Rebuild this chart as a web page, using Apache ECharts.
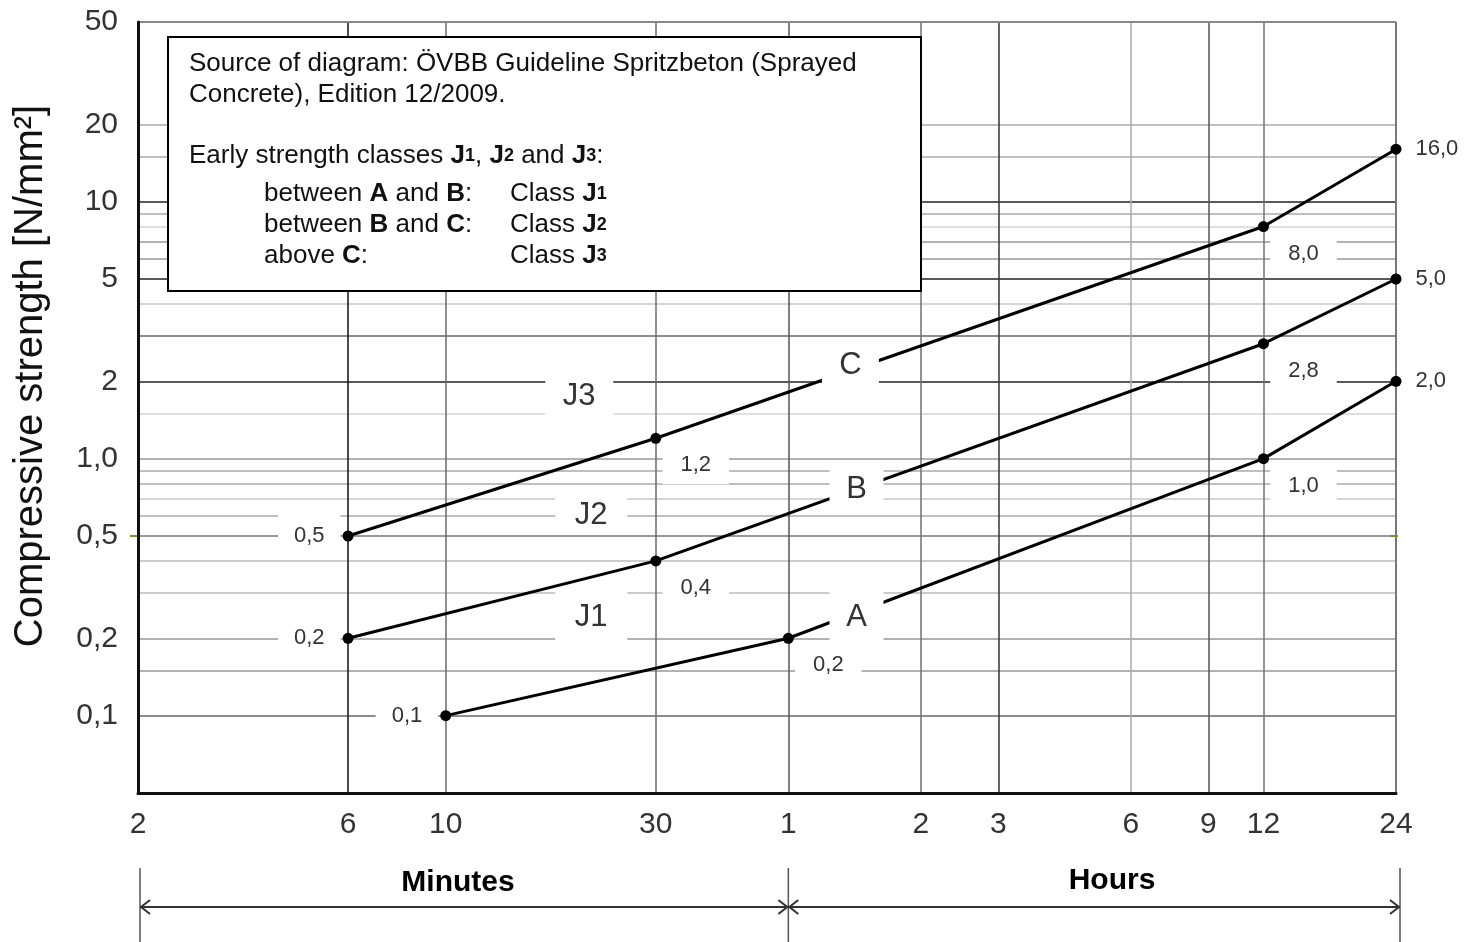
<!DOCTYPE html>
<html><head><meta charset="utf-8">
<script src="https://cdn.jsdelivr.net/npm/echarts@6/dist/echarts.min.js"></script>
<style>html,body{margin:0;padding:0;background:#fff}#c{width:1466px;height:942px}</style>
</head><body><div id="c"></div>
<script>
// ---- data ----
const xTickValues = [2, 6, 10, 30, 60, 120, 180, 360, 540, 720, 1440];           // minutes
const xTickLabels = ['2', '6', '10', '30', '1', '2', '3', '6', '9', '12', '24'];
const yTickValues = [0.1, 0.2, 0.5, 1, 2, 5, 10, 20, 50];
const yTickLabels = ['0,1', '0,2', '0,5', '1,0', '2', '5', '10', '20', '50'];
const xGridValues = [6, 10, 30, 60, 120, 180, 360, 540, 720];
const yGridValues = [0.1, 0.15, 0.2, 0.3, 0.4, 0.5, 0.6, 0.7, 0.8, 0.9, 1, 1.5, 2, 3, 4, 5, 6, 7, 8, 9, 10, 15, 20];

const timeC = [6, 30, 720, 1440];
const strengthC = [0.5, 1.2, 8.0, 16.0];
const timeB = [6, 30, 720, 1440];
const strengthB = [0.2, 0.4, 2.8, 5.0];
const timeA = [10, 60, 720, 1440];
const strengthA = [0.1, 0.2, 1.0, 2.0];

const curveTags = ['C', 'B', 'A'];
const curveTagTime = [83, 85.7, 85.7];
const curveTagStrength = [2.3, 0.757, 0.24];
const classTags = ['J3', 'J2', 'J1'];
const classTagTime = [20.1, 21.4, 21.4];
const classTagStrength = [1.74, 0.60, 0.24];

// ---- styles ----
const FONT = "'Liberation Sans', Arial, Helvetica, sans-serif";
const xGridShades = ['#111', '#6a6a6a', '#6a6a6a', '#555', '#707070', '#333', '#aaa', '#555', '#707070'];
const yGridShades = ['#666', '#999', '#999', '#bbb', '#bbb', '#777', '#aaa', '#c8c8c8', '#aaa', '#aaa', '#999',
  '#d4d4d4', '#222', '#666', '#c8c8c8', '#222', '#999', '#999', '#d4d4d4', '#aaa', '#222', '#aaa', '#aaa'];
const sideC = ['left', 'below', 'below', 'right'];
const sideB = ['left', 'below', 'below', 'right'];
const sideA = ['left', 'below', 'below', 'right'];
const curveTagBox = [[57, 52], [54, 50], [54, 52]];
const classTagBox = [[68, 44], [72, 38], [72, 52]];

const fmt = v => v.toFixed(1).replace('.', ',');

function pointLabel(side) {
  const base = { show: true, formatter: p => fmt(p.value[1]), fontSize: 22, color: '#333', fontFamily: FONT };
  if (side === 'left') return Object.assign(base, { position: 'left', distance: 2, backgroundColor: '#fff', padding: [10, 16] });
  if (side === 'right') return Object.assign(base, { position: 'right', distance: 14 });
  return Object.assign(base, { position: 'inside', offset: [40, 27], backgroundColor: '#fff', padding: [8, 18] });
}
function curveSeries(name, times, vals, sides) {
  return {
    type: 'line', name, z: 3, clip: false, silent: true, animation: false,
    data: times.map((t, i) => ({ value: [t, vals[i]], label: pointLabel(sides[i]) })),
    lineStyle: { color: '#000', width: 3 }, itemStyle: { color: '#000' },
    symbol: 'circle', symbolSize: 11, showSymbol: true, emphasis: { disabled: true }
  };
}

const markData = [];
yGridValues.forEach((v, i) => markData.push({ yAxis: v, lineStyle: { color: yGridShades[i], width: 1.5, type: 'solid' }, label: { show: false } }));
xGridValues.forEach((v, i) => markData.push({ xAxis: v, lineStyle: { color: xGridShades[i], width: 1.5, type: 'solid' }, label: { show: false } }));
yTickValues.forEach((v, i) => markData.push({
  yAxis: v,
  lineStyle: v === 50 ? { color: '#888', width: 2, type: 'solid' } : { color: 'rgba(0,0,0,0)', width: 0 },
  label: { show: true, formatter: yTickLabels[i], position: 'start', distance: 20, fontSize: 30, color: '#333', fontFamily: FONT }
}));
xTickValues.forEach((v, i) => markData.push({
  xAxis: v,
  lineStyle: v === 1440 ? { color: '#777', width: 2, type: 'solid' } : { color: 'rgba(0,0,0,0)', width: 0 },
  label: { show: true, formatter: xTickLabels[i], position: 'start', distance: 17, fontSize: 30, color: '#333', fontFamily: FONT }
}));
// small green marks at 0,5 on both frame edges
markData.push({ yAxis: 0.5, lineStyle: { color: 'rgba(0,0,0,0)', width: 0 }, label: { show: true, formatter: '', position: 'start', distance: 0, backgroundColor: '#6a9a2a', width: 8, height: 2, padding: 0 } });
markData.push({ yAxis: 0.5, lineStyle: { color: 'rgba(0,0,0,0)', width: 0 }, label: { show: true, formatter: '', position: 'end', distance: -6, backgroundColor: '#6a9a2a', width: 8, height: 2, padding: 0 } });

const tagData = [];
curveTags.forEach((n, i) => tagData.push({ name: n, value: [curveTagTime[i], curveTagStrength[i]], symbolSize: curveTagBox[i] }));
classTags.forEach((n, i) => tagData.push({ name: n, value: [classTagTime[i], classTagStrength[i]], symbolSize: classTagBox[i] }));

const chart = echarts.init(document.getElementById('c'), null, { renderer: 'canvas' });
const series = [
  Object.assign(curveSeries('C', timeC, strengthC, sideC), {
    markLine: { z: 1, silent: true, animation: false, symbol: ['none', 'none'], label: { show: false }, emphasis: { disabled: true }, data: markData }
  }),
  curveSeries('B', timeB, strengthB, sideB),
  curveSeries('A', timeA, strengthA, sideA),
  {
    type: 'scatter', z: 5, silent: true, animation: false, symbol: 'rect', clip: false,
    itemStyle: { color: '#fff', opacity: 1 },
    label: { show: true, position: 'inside', formatter: '{b}', fontSize: 31, color: '#333', fontFamily: FONT },
    emphasis: { disabled: true },
    data: tagData
  }
];

chart.setOption({
  animation: false,
  textStyle: { fontFamily: FONT },
  grid: { left: 138, right: 70, top: 22, bottom: 149, containLabel: false, outerBoundsMode: 'none', show: false },
  xAxis: {
    type: 'log', logBase: 10, min: 2, max: 1440, z: 4,
    axisLine: { show: true, lineStyle: { color: '#111', width: 3 } },
    axisTick: { show: false }, axisLabel: { show: false }, splitLine: { show: false }, minorSplitLine: { show: false }
  },
  yAxis: {
    type: 'log', logBase: 10, min: 0.05, max: 50, z: 4,
    axisLine: { show: true, lineStyle: { color: '#111', width: 3 } },
    axisTick: { show: false }, axisLabel: { show: false }, splitLine: { show: false }, minorSplitLine: { show: false }
  },
  series
});

const px = v => chart.convertToPixel({ xAxisIndex: 0 }, v);
const xa = px(2) + 2, xb = px(60), xc = px(1440) + 4;
const arrowY = 907;
const txt = (x, y, text, extra) => ({
  type: 'text', x, y, z: 100,
  style: Object.assign({ text, font: '26px ' + FONT, fill: '#111', textAlign: 'left', align: 'left', textVerticalAlign: 'middle', verticalAlign: 'middle' }, extra || {})
});
const richJ = {
  b: { fontWeight: 'bold', fontSize: 26, fontFamily: FONT, lineHeight: 30, fill: '#111' },
  s: { fontWeight: 'bold', fontSize: 18, fontFamily: FONT, lineHeight: 30, verticalAlign: 'middle', fill: '#111' }
};
const richTxt = (x, y, text) => txt(x, y, text, { rich: richJ, lineHeight: 30, fontSize: 26, fontFamily: FONT });

chart.setOption({
  graphic: [
    { type: 'text', x: 31, y: 376, rotation: Math.PI / 2, z: 100,
      style: { text: 'Compressive strength [N/mm²]', font: '40px ' + FONT, fill: '#111', textAlign: 'center', align: 'center', textVerticalAlign: 'middle', verticalAlign: 'middle' } },
    // time range brackets
    { type: 'line', z: 100, shape: { x1: xa, y1: 868, x2: xa, y2: 942 }, style: { stroke: '#555', lineWidth: 1.5 } },
    { type: 'line', z: 100, shape: { x1: xb, y1: 868, x2: xb, y2: 942 }, style: { stroke: '#555', lineWidth: 1.5 } },
    { type: 'line', z: 100, shape: { x1: xc, y1: 868, x2: xc, y2: 942 }, style: { stroke: '#555', lineWidth: 1.5 } },
    { type: 'line', z: 100, shape: { x1: xa, y1: arrowY, x2: xc, y2: arrowY }, style: { stroke: '#333', lineWidth: 2 } },
    { type: 'polyline', z: 100, shape: { points: [[xa + 10, arrowY - 7], [xa + 1, arrowY], [xa + 10, arrowY + 7]] }, style: { stroke: '#333', lineWidth: 2, fill: null } },
    { type: 'polyline', z: 100, shape: { points: [[xb - 10, arrowY - 7], [xb - 1, arrowY], [xb - 10, arrowY + 7]] }, style: { stroke: '#333', lineWidth: 2, fill: null } },
    { type: 'polyline', z: 100, shape: { points: [[xb + 10, arrowY - 7], [xb + 1, arrowY], [xb + 10, arrowY + 7]] }, style: { stroke: '#333', lineWidth: 2, fill: null } },
    { type: 'polyline', z: 100, shape: { points: [[xc - 10, arrowY - 7], [xc - 1, arrowY], [xc - 10, arrowY + 7]] }, style: { stroke: '#333', lineWidth: 2, fill: null } },
    txt(458, 883, 'Minutes', { font: 'bold 30px ' + FONT, fill: '#000', textAlign: 'center', align: 'center' }),
    txt(1112, 881, 'Hours', { font: 'bold 30px ' + FONT, fill: '#000', textAlign: 'center', align: 'center' }),
    // source / legend box
    { type: 'rect', z: 99, shape: { x: 168, y: 37, width: 753, height: 254 }, style: { fill: '#fff', stroke: '#000', lineWidth: 2 } },
    txt(189, 64, 'Source of diagram: ÖVBB Guideline Spritzbeton (Sprayed'),
    txt(189, 95, 'Concrete), Edition 12/2009.'),
    richTxt(189, 156, 'Early strength classes {b|J}{s|1}, {b|J}{s|2} and {b|J}{s|3}:'),
    richTxt(264, 194, 'between {b|A} and {b|B}:'),
    richTxt(510, 194, 'Class {b|J}{s|1}'),
    richTxt(264, 225, 'between {b|B} and {b|C}:'),
    richTxt(510, 225, 'Class {b|J}{s|2}'),
    richTxt(264, 256, 'above {b|C}:'),
    richTxt(510, 256, 'Class {b|J}{s|3}')
  ]
});
</script></body></html>
